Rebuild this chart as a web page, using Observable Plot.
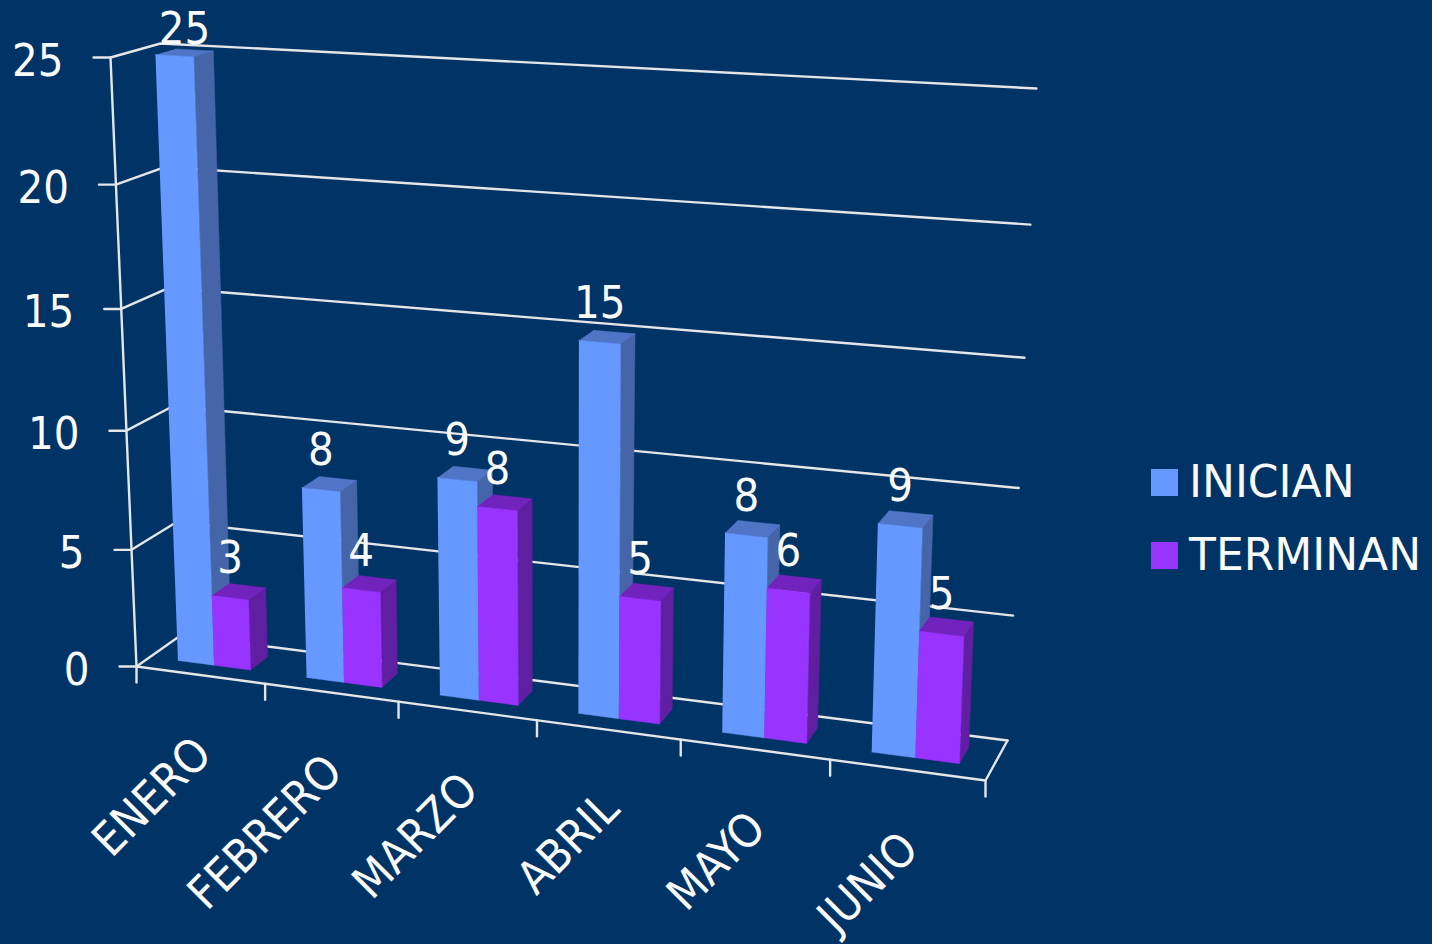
<!DOCTYPE html>
<html lang="es">
<head>
<meta charset="utf-8">
<title>INICIAN / TERMINAN</title>
<script src="https://cdn.jsdelivr.net/npm/d3@7"></script>
<script src="https://cdn.jsdelivr.net/npm/@observablehq/plot@0.6"></script>
<style>
  html, body { margin: 0; padding: 0; background: #003366; overflow: hidden; }
  #chart { position: relative; width: 1432px; height: 944px; font-family: "DejaVu Sans", sans-serif; }
  #chart svg { display: block; font-stretch: condensed; }
  .legend { position: absolute; left: 1151px; color: #fafafa; font-size: 44px; line-height: 44px; display: flex; align-items: center; white-space: nowrap; }
  .legend i { display: inline-block; width: 27px; height: 27px; margin-right: 11px; }
</style>
</head>
<body>
<div id="chart"></div>
<script>
// Data
const months = ["ENERO", "FEBRERO", "MARZO", "ABRIL", "MAYO", "JUNIO"];
const inician = [25, 8, 9, 15, 8, 9];
const terminan = [3, 4, 8, 5, 6, 5];
const valueTicks = [0, 5, 10, 15, 20, 25];
const seriesNames = ["INICIAN", "TERMINAN"];

// Palette
const BG = "#003366", LINE = "#e4e6e8", TEXT = "#fafafa";
const palette = {
  INICIAN: { front: "#6699ff", side: "#4664a8", top: "#5175c6" },
  TERMINAN: { front: "#9933ff", side: "#5f1fa0", top: "#7222bd" }
};

// The box the reference's 3-D chart sits in, as seen on screen (layout constants).
const box = {
  fl0: [136, 666], fr0: [985, 780], bl0: [180, 635], br0: [1007, 740],
  fl1: [110, 57], fr1: [1008, 108], bl1: [160, 43], br1: [1036, 88]
};
const persp = (s, n, r) => s / (s + r * (n - s));
const lerp = (a, b, t) => [a[0] + (b[0] - a[0]) * t, a[1] + (b[1] - a[1]) * t];
const vMax = d3.max(valueTicks), nCat = months.length;

// category position u, value v, depth d -> screen position
function project(u, v, d) {
  const tu = persp(u, nCat, 1.12), tv = persp(v, vMax, 1.055);
  const f = lerp(lerp(box.fl0, box.fr0, tu), lerp(box.fl1, box.fr1, tu), tv);
  const b = lerp(lerp(box.bl0, box.br0, tu), lerp(box.bl1, box.br1, tu), tv);
  const p = lerp(f, b, d);
  return { x: p[0], y: p[1] };
}

// Bars as polygons
const faces = [], labels = [];
const D0 = 0.313, D1 = 0.72, U0 = 0.22, UM = 0.505, U1 = 0.79;
function addFace(id, fill, pts) {
  pts.forEach(p => faces.push({ id, fill, x: p.x, y: p.y }));
}
function addBar(key, cat, value, a, b) {
  const c = palette[key], id = key + cat, ua = cat + a, ub = cat + b;
  addFace(id + "side", c.side, [project(ub, 0, D0), project(ub, 0, D1), project(ub, value, D1), project(ub, value, D0)]);
  addFace(id + "top", c.top, [project(ua, value, D0), project(ub, value, D0), project(ub, value, D1), project(ua, value, D1)]);
  addFace(id + "front", c.front, [project(ua, 0, D0), project(ub, 0, D0), project(ub, value, D0), project(ua, value, D0)]);
  const p = project((ua + ub) / 2, value, D0);
  const top = p.y - 40 < 28;
  labels.push({ text: String(value), x: p.x + (top ? 10 : 0), y: Math.max(p.y - 39, 29) });
}
months.forEach((m, i) => {
  addBar("INICIAN", i, inician[i], U0, UM);
  addBar("TERMINAN", i, terminan[i], UM, U1);
});

// Walls and floor
const rules = [];
function addRule(id, pts) { pts.forEach(p => rules.push({ id, x: p.x, y: p.y })); }
const shift = (p, dx, dy) => ({ x: p.x + dx, y: p.y + dy });
valueTicks.forEach(v => {
  addRule("v" + v, [shift(project(0, v, 0), -17, 0), project(0, v, 0), project(0, v, 1), project(nCat, v, 1)]);
});
addRule("axisY", [project(0, 0, 0), project(0, vMax, 0)]);
addRule("floorFront", [project(0, 0, 0), project(nCat, 0, 0), project(nCat, 0, 1)]);
d3.range(nCat + 1).forEach(i => {
  const p = project(i, 0, 0);
  addRule("cat" + i, [p, shift(p, 0, 16)]);
});

const valueLabels = valueTicks.map(v => {
  const p = project(0, v, 0);
  return { text: String(v), x: p.x - 47, y: p.y + 4 };
});
const catLabels = months.map((m, i) => {
  const p = project(i + 0.5, 0, 0);
  return { text: m, x: p.x + 3, y: p.y + 71 };
});

const font = '"DejaVu Sans", sans-serif';
const plot = Plot.plot({
  width: 1432, height: 944,
  marginTop: 0, marginRight: 0, marginBottom: 0, marginLeft: 0,
  x: { domain: [0, 1432], range: [0, 1432], axis: null },
  y: { domain: [0, 944], range: [0, 944], axis: null },
  color: { type: "identity" },
  style: { background: BG, fontFamily: font },
  marks: [
    Plot.line(rules, { x: "x", y: "y", z: "id", stroke: LINE, strokeWidth: 2.4 }),
    Plot.line(faces, { x: "x", y: "y", z: "id", fill: "fill", stroke: "fill", strokeWidth: 0.5 }),
    Plot.text(valueLabels, { x: "x", y: "y", text: "text", textAnchor: "end", fontSize: 45, fill: TEXT }),
    Plot.text(labels, { x: "x", y: "y", text: "text", fontSize: 45, fill: TEXT }),
    Plot.text(catLabels, { x: "x", y: "y", text: "text", rotate: -45, textAnchor: "end", fontSize: 46, fill: TEXT })
  ]
});
const chart = document.getElementById("chart");
chart.append(plot);

seriesNames.forEach((name, i) => {
  const row = document.createElement("div");
  row.className = "legend";
  row.style.top = (460 + i * 73) + "px";
  const sw = document.createElement("i");
  sw.style.background = palette[name].front;
  row.append(sw, name);
  chart.append(row);
});
</script>
</body>
</html>
